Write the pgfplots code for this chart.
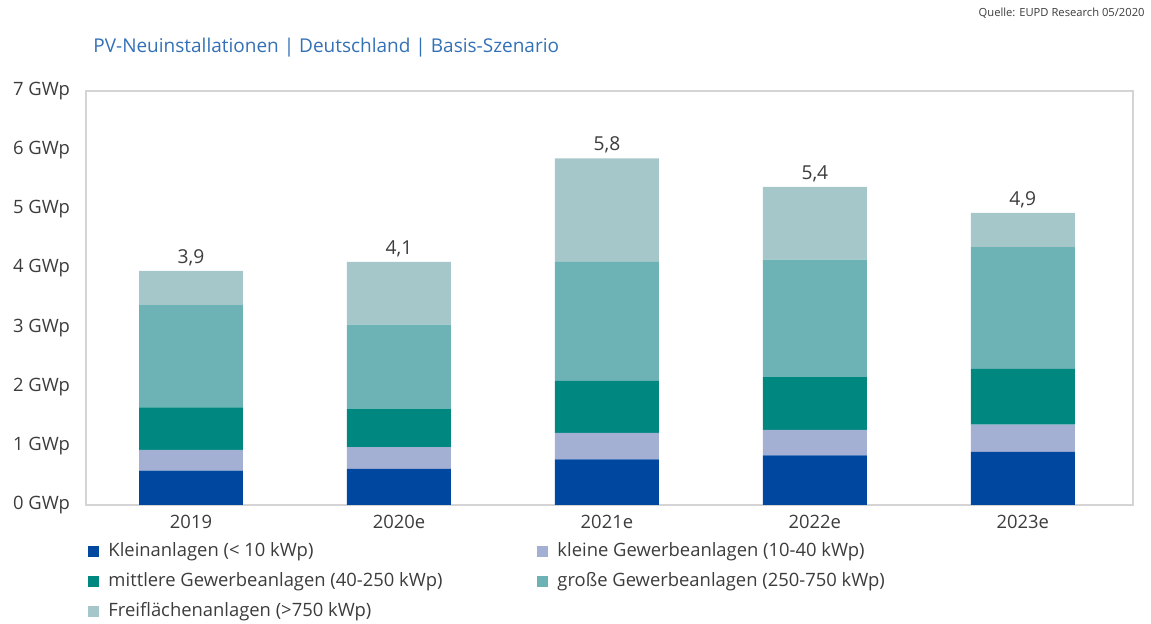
\documentclass[border=0pt]{standalone}
\usepackage{pgfplots}
\pgfplotsset{compat=1.18}
\usepackage{fontspec}
\setmainfont{Open Sans}

\definecolor{cKlein}{HTML}{0047A0}
\definecolor{cKleinGew}{HTML}{A3AFD3}
\definecolor{cMittel}{HTML}{008780}
\definecolor{cGross}{HTML}{6DB3B5}
\definecolor{cFrei}{HTML}{A6C7CA}
\definecolor{titleblue}{HTML}{3470B5}
\definecolor{txt}{HTML}{3C3C3C}
\definecolor{boxgray}{HTML}{D4D4D4}

\pgfplotsset{
  sqlegend/.style={legend image code/.code={%
    \path[##1,draw=none] (0pt,-2.75pt) rectangle (5.5pt,2.75pt);
    \path (8pt,0pt);}},
  common/.style={at={(43pt,59.5pt)}, anchor=south west,
    width=523.5pt, height=207pt, scale only axis,
    xmin=-0.505, xmax=4.53, ymin=0, ymax=7},
}

\begin{document}
\begin{tikzpicture}
\useasboundingbox (0,0) rectangle (575.5pt,312pt);
\node[anchor=west, text=titleblue, inner sep=0pt, font=\fontsize{9.5}{11}\selectfont] at (46.5pt,288pt)
  {PV-Neuinstallationen | Deutschland | Basis-Szenario};
\node[anchor=east, text=txt, font=\fontsize{5.6}{7}\selectfont, inner sep=0pt] at (572.5pt,305.5pt)
  {Quelle: EUPD Research 05/2020};
\begin{axis}[
  common,
  ybar stacked, bar width=0.5,
  axis line style={boxgray, line width=0.9pt},
  xtick={0,1,2,3,4}, xticklabels={2019,2020e,2021e,2022e,2023e},
  ytick={0,1,2,3,4,5,6,7},
  yticklabels={0 GWp,1 GWp,2 GWp,3 GWp,4 GWp,5 GWp,6 GWp,7 GWp},
  major tick length=0pt,
  tick label style={font=\fontsize{9.2}{11}\selectfont, text=txt},
  yticklabel style={xshift=-4.5pt},
  xticklabel style={yshift=-1.5pt},
  legend columns=2,
  legend style={at={(0.002,-0.08)}, anchor=north west, draw=none, fill=none,
    font=\fontsize{9.2}{11}\selectfont, text=txt, inner sep=0pt, row sep=2.5pt,
    cells={anchor=west}},
]
\addplot[fill=cKlein, draw=none, sqlegend] coordinates {(0,0.58) (1,0.61) (2,0.77) (3,0.84) (4,0.90)};
\addlegendentry{\makebox[212.5pt][l]{Kleinanlagen (< 10 kWp)}}
\addplot[fill=cKleinGew, draw=none, sqlegend] coordinates {(0,0.35) (1,0.37) (2,0.45) (3,0.43) (4,0.46)};
\addlegendentry{kleine Gewerbeanlagen (10-40 kWp)}
\addplot[fill=cMittel, draw=none, sqlegend] coordinates {(0,0.72) (1,0.65) (2,0.88) (3,0.89) (4,0.94)};
\addlegendentry{\makebox[212.5pt][l]{mittlere Gewerbeanlagen (40-250 kWp)}}
\addplot[fill=cGross, draw=none, sqlegend] coordinates {(0,1.73) (1,1.42) (2,2.01) (3,1.99) (4,2.06)};
\addlegendentry{große Gewerbeanlagen (250-750 kWp)}
\addplot[fill=cFrei, draw=none, sqlegend] coordinates {(0,0.58) (1,1.06) (2,1.75) (3,1.23) (4,0.58)};
\addlegendentry{\makebox[212.5pt][l]{Freiflächenanlagen (>750 kWp)}}
\end{axis}
% totals above the bars
\begin{axis}[common, hide axis]
\addplot[draw=none, mark=none, point meta=explicit symbolic, nodes near coords,
  nodes near coords style={font=\fontsize{9.6}{11}\selectfont, text=txt,
    anchor=base, inner sep=0pt, yshift=3.8pt}]
  coordinates {(0,3.96)[3,9] (1,4.11)[4,1] (2,5.86)[5,8] (3,5.38)[5,4] (4,4.94)[4,9]};
\end{axis}
\end{tikzpicture}
\end{document}
